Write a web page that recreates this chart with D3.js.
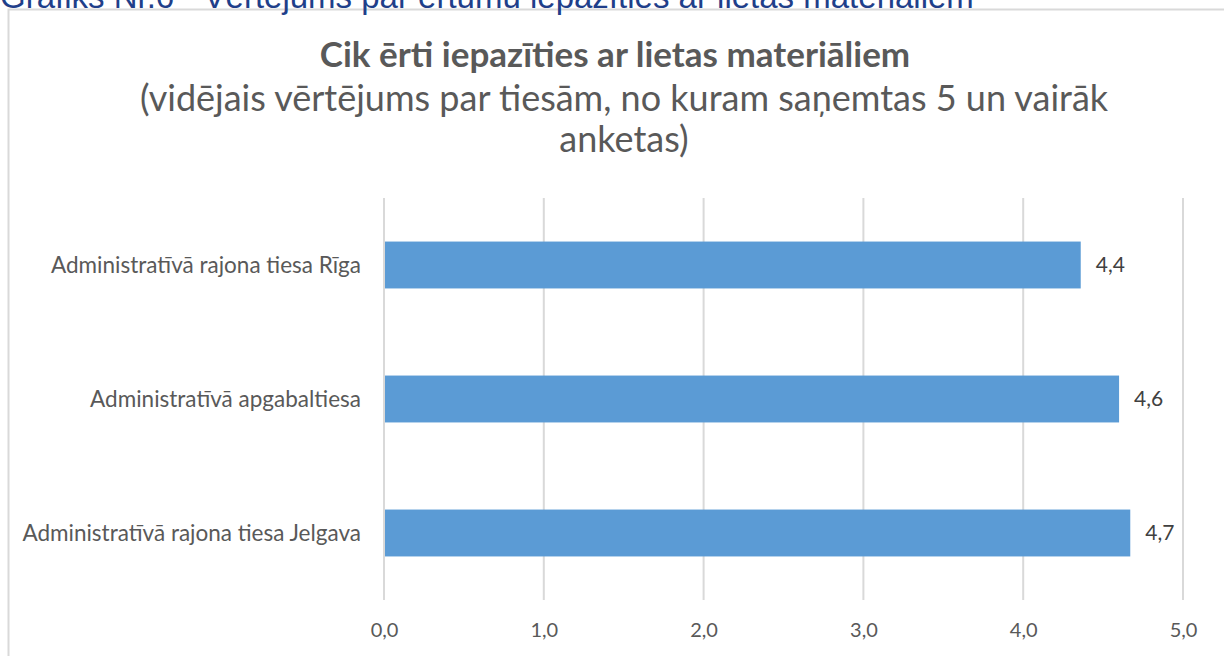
<!DOCTYPE html>
<html>
<head>
<meta charset="utf-8">
<script src="https://cdn.jsdelivr.net/npm/d3@7"></script>
<style>
body{margin:0;background:#fff;overflow:hidden;}
text{font-family:Lato,"Open Sans",sans-serif;}
</style>
</head>
<body>
<div class="chart"></div>
<script>
var courts = ['Administratīvā rajona tiesa Rīga', 'Administratīvā apgabaltiesa', 'Administratīvā rajona tiesa Jelgava'];
var scores = [4.36, 4.6, 4.67];
var tickValues = [0, 1, 2, 3, 4, 5];
var caption = 'Grafiks Nr.6 - Vērtējums par ērtumu iepazīties ar lietas materiāliem';
var title = 'Cik ērti iepazīties ar lietas materiāliem';
var subtitle = ['(vidējais vērtējums par tiesām, no kuram saņemtas 5 un vairāk', 'anketas)'];

var svg = d3.select('div.chart')
.append('svg')
.attr('width', 1224)
.attr('height', 656)
;

// chart frame
svg.append('rect')
.attr('x', 8.5).attr('y', 9.5)
.attr('width', 1230).attr('height', 660)
.attr('fill', '#fff')
.attr('stroke', '#d9d9d9')
.attr('stroke-width', 2)
;

// caption cut off at top
svg.append('text')
.attr('x', 0).attr('y', 8)
.attr('fill', '#1f3f8a')
.style('font-family', '"Liberation Sans",Arial,sans-serif')
.style('font-size', '33px')
.text(caption)
;

svg.append('text')
.attr('x', 615).attr('y', 67)
.attr('text-anchor', 'middle')
.attr('fill', '#595959')
.style('font-size', '35px')
.style('font-weight', 'bold')
.text(title)
;

svg.selectAll('.sub')
.data(subtitle)
.enter()
.append('text')
.attr('class', 'sub')
.attr('x', 624)
.attr('y', function(d, i){return 111 + i * 41})
.attr('text-anchor', 'middle')
.attr('fill', '#595959')
.style('font-size', '36px')
.text(function(d){return d})
;

var x = d3.scaleLinear()
.domain([0, 5])
.range([384, 1183])
;

var y = d3.scaleBand()
.domain(courts)
.range([198, 600])
.paddingInner(0.65)
.paddingOuter(0.325)
;

var xAxis = d3.axisBottom()
.scale(x)
.tickValues(tickValues)
.tickSize(0)
.tickFormat(function(d){return d3.format('.1f')(d).replace('.', ',')})
;

// gridlines
svg.append('g')
.selectAll('line')
.data(tickValues)
.enter()
.append('line')
.attr('x1', function(d){return x(d)})
.attr('x2', function(d){return x(d)})
.attr('y1', 198)
.attr('y2', 600)
.attr('stroke', '#d9d9d9')
.attr('stroke-width', 2)
;

svg.selectAll('.bar')
.data(scores)
.enter()
.append('rect')
.attr('class', 'bar')
.attr('x', x(0) + 1)
.attr('y', function(d, i){return y(courts[i])})
.attr('width', function(d){return x(d) - x(0) - 1})
.attr('height', y.bandwidth())
.attr('fill', '#5b9bd5')
;

svg.selectAll('.val')
.data(scores)
.enter()
.append('text')
.attr('class', 'val')
.attr('x', function(d){return x(d) + 15})
.attr('y', function(d, i){return y(courts[i]) + y.bandwidth() / 2})
.attr('dy', '0.35em')
.attr('fill', '#404040')
.style('font-size', '21px')
.text(function(d){return d3.format('.1f')(d).replace('.', ',')})
;

svg.selectAll('.cat')
.data(courts)
.enter()
.append('text')
.attr('class', 'cat')
.attr('x', 361)
.attr('y', function(d){return y(d) + y.bandwidth() / 2})
.attr('dy', '0.35em')
.attr('text-anchor', 'end')
.attr('fill', '#595959')
.style('font-size', '22.5px')
.text(function(d){return d})
;

var ax = svg.append('g')
.attr('class', 'x-axis')
.attr('transform', 'translate(0,620)')
.call(xAxis)
;
ax.select('.domain').remove();
ax.selectAll('text')
.attr('fill', '#595959')
.style('font-size', '20px')
.style('font-family', 'Lato,"Open Sans",sans-serif')
;
</script>
</body>
</html>
